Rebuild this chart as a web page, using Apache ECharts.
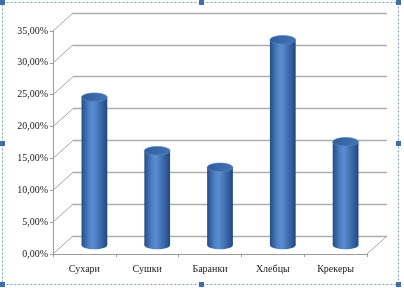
<!DOCTYPE html>
<html>
<head>
<meta charset="utf-8">
<script src="https://cdn.jsdelivr.net/npm/echarts@6/dist/echarts.min.js"></script>
<style>html,body{margin:0;padding:0;background:#fff}#c{width:404px;height:288px}</style>
</head>
<body>
<div id="c"></div>
<script>
var categories = ['Сухари', 'Сушки', 'Баранки', 'Хлебцы', 'Крекеры'];
var values = [0.232, 0.148, 0.122, 0.322, 0.162];
var tickValues = [0, 0.05, 0.10, 0.15, 0.20, 0.25, 0.30, 0.35];

var DX = 20, DY = -18;          // depth offset of back wall
var MX = 10, MY = -9;           // mid-depth offset of cylinders

function fmt(v) { return (v * 100).toFixed(2).replace('.', ',') + '%'; }

var chart = echarts.init(document.getElementById('c'), null, {renderer: 'canvas'});

var bodyGrad = {
  type: 'linear', x: 0, y: 0, x2: 1, y2: 0,
  colorStops: [
    {offset: 0, color: '#254d86'},
    {offset: 0.3, color: '#4f82c6'},
    {offset: 0.45, color: '#5a8dd0'},
    {offset: 0.75, color: '#3a69ab'},
    {offset: 1, color: '#21487f'}
  ]
};
var topGrad = {
  type: 'linear', x: 0, y: 0, x2: 1, y2: 1,
  colorStops: [
    {offset: 0, color: '#2f5c9a'},
    {offset: 1, color: '#4474b6'}
  ]
};

chart.setOption({
  animation: false,
  backgroundColor: '#fff',
  grid: [
    {left: 53, right: 37, top: 31, bottom: 34},
    {left: 53 + DX, right: 37 - DX, top: 31 + DY, bottom: 34 - DY}
  ],
  xAxis: [
    {
      type: 'category', gridIndex: 0, data: categories,
      axisLine: {show: true, lineStyle: {color: '#9a9a9a', width: 1}},
      axisTick: {show: true, length: 3, lineStyle: {color: '#9a9a9a'}},
      axisLabel: {fontFamily: 'Liberation Serif', fontSize: 10, color: '#1a1a1a', margin: 10}
    },
    {
      type: 'category', gridIndex: 1, data: categories, show: false
    }
  ],
  yAxis: [
    {
      type: 'value', gridIndex: 0, min: 0, max: 0.35, interval: 0.05,
      axisLine: {show: true, lineStyle: {color: '#9a9a9a', width: 1}},
      axisTick: {show: true, length: 3, lineStyle: {color: '#9a9a9a'}},
      splitLine: {show: false},
      axisLabel: {fontFamily: 'Liberation Serif', fontSize: 10, color: '#1a1a1a', margin: 5,
        formatter: function (v) { return fmt(v); }}
    },
    {
      type: 'value', gridIndex: 1, min: 0, max: 0.35, interval: 0.05,
      axisLine: {show: false}, axisTick: {show: false}, axisLabel: {show: false},
      splitLine: {show: true, lineStyle: {color: '#adadad', width: 1.4}}
    }
  ],
  series: [
    {
      // left wall diagonals and floor edge
      type: 'custom', xAxisIndex: 0, yAxisIndex: 0, z: 1, silent: true,
      data: tickValues.map(function (v) { return [0, v]; }),
      renderItem: function (params, api) {
        var cs = params.coordSys;
        var y = api.coord([0, api.value(1)])[1];
        var children = [{
          type: 'line',
          shape: {x1: cs.x, y1: y, x2: cs.x + DX, y2: y + DY},
          style: {stroke: '#a5a5a5', lineWidth: 1}
        }];
        if (api.value(1) === 0) {
          children.push({
            type: 'line',
            shape: {x1: cs.x + cs.width, y1: y, x2: cs.x + cs.width + DX, y2: y + DY},
            style: {stroke: '#a5a5a5', lineWidth: 1}
          });
        }
        return {type: 'group', children: children};
      }
    },
    {
      // cylinders
      type: 'custom', xAxisIndex: 0, yAxisIndex: 0, z: 5, silent: true,
      data: values.map(function (v, i) { return [i, v]; }),
      renderItem: function (params, api) {
        var top = api.coord([api.value(0), api.value(1)]);
        var base = api.coord([api.value(0), 0]);
        var band = api.size([1, 0])[0];
        var rx = band * 0.205;
        var ry = 4.3;
        var cx = top[0] + MX;
        var ty = top[1] + MY;
        var by = base[1] + MY;
        return {
          type: 'group',
          children: [
            {type: 'ellipse', shape: {cx: cx, cy: by, rx: rx, ry: ry}, style: {fill: bodyGrad}},
            {type: 'rect', shape: {x: cx - rx, y: ty, width: rx * 2, height: by - ty}, style: {fill: bodyGrad}},
            {type: 'ellipse', shape: {cx: cx, cy: ty, rx: rx, ry: ry}, style: {fill: topGrad, stroke: '#5a88c6', lineWidth: 0.6}}
          ]
        };
      }
    }
  ],
  graphic: [
    {type: 'rect', shape: {x: 2.5, y: 2.5, width: 396, height: 282}, style: {fill: null, stroke: '#7f9cc0', lineWidth: 1, lineDash: [2, 2]}, z: 100},
    {type: 'rect', shape: {x: 0, y: 0, width: 5, height: 5}, style: {fill: '#3f6fa8'}, z: 101},
    {type: 'rect', shape: {x: 199, y: 0, width: 5, height: 5}, style: {fill: '#3f6fa8'}, z: 101},
    {type: 'rect', shape: {x: 396, y: 0, width: 5, height: 5}, style: {fill: '#3f6fa8'}, z: 101},
    {type: 'rect', shape: {x: 0, y: 141, width: 5, height: 5}, style: {fill: '#3f6fa8'}, z: 101},
    {type: 'rect', shape: {x: 396, y: 141, width: 5, height: 5}, style: {fill: '#3f6fa8'}, z: 101},
    {type: 'rect', shape: {x: 0, y: 282, width: 5, height: 5}, style: {fill: '#3f6fa8'}, z: 101},
    {type: 'rect', shape: {x: 199, y: 282, width: 5, height: 5}, style: {fill: '#3f6fa8'}, z: 101},
    {type: 'rect', shape: {x: 396, y: 282, width: 5, height: 5}, style: {fill: '#3f6fa8'}, z: 101}
  ]
});
</script>
</body>
</html>
